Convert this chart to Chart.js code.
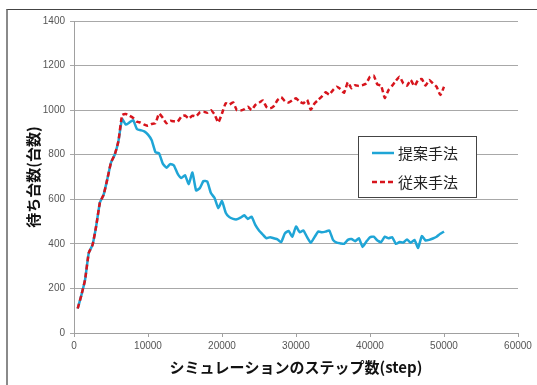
<!DOCTYPE html>
<html>
<head>
<meta charset="utf-8">
<script src="https://cdn.jsdelivr.net/npm/chart.js@4/dist/chart.umd.min.js"></script>
<style>
    body { margin: 0; background: #fff; }
    #wrap { position: relative; width: 537px; height: 385px; overflow: hidden; }
    #frame { position: absolute; left: 6px; top: 9px; width: 600px; height: 400px;
             border-left: 2px solid #8a8a8a; border-top: 1px solid #444; }
    #chart { position: absolute; left: 0; top: 0; }
</style>
</head>
<body>
<div id="wrap">
    <div id="frame"></div>
    <canvas id="chart" width="537" height="385"></canvas>
</div>
<script>
// x positions (simulation step)
const steps = [
    500, 1000, 1500, 2000, 2500, 3000, 3500, 4000, 4500, 5000,
    5500, 6000, 6500, 7000, 7500, 8000, 8500, 9000, 9500, 10000,
    10500, 11000, 11500, 12000, 12500, 13000, 13500, 14000, 14500, 15000,
    15500, 16000, 16500, 17000, 17500, 18000, 18500, 19000, 19500, 20000,
    20500, 21000, 21500, 22000, 22500, 23000, 23500, 24000, 24500, 25000,
    25500, 26000, 26500, 27000, 27500, 28000, 28500, 29000, 29500, 30000,
    30500, 31000, 31500, 32000, 32500, 33000, 33500, 34000, 34500, 35000,
    35500, 36000, 36500, 37000, 37500, 38000, 38500, 39000, 39500, 40000,
    40500, 41000, 41500, 42000, 42500, 43000, 43500, 44000, 44500, 45000,
    45500, 46000, 46500, 47000, 47500, 48000, 48500, 49000, 49500, 50000
];

// 提案手法
const proposed = [
    110, 170, 240, 360, 395, 480, 585, 620, 690, 765,
    800, 860, 960, 935, 945, 955, 915, 910, 905, 890,
    865, 812, 806, 760, 742, 758, 752, 715, 695, 708,
    668, 720, 640, 650, 682, 680, 628, 606, 560, 592,
    540, 520, 512, 510, 518, 528, 512, 522, 485, 460,
    442, 425, 430, 425, 420, 408, 447, 458, 432, 478,
    452, 460, 430, 405, 430, 455, 452, 455, 460, 418,
    405, 402, 400, 418, 422, 412, 425, 386, 410, 430,
    432, 415, 408, 432, 425, 430, 400, 408, 406, 420,
    405, 418, 382, 435, 415, 418, 424, 432, 445, 455
];

// 従来手法
const conventional = [
    110, 170, 240, 360, 395, 480, 585, 620, 690, 765,
    800, 860, 978, 983, 975, 965, 948, 944, 935, 930,
    938, 941, 985, 965, 941, 952, 950, 948, 971, 976,
    963, 975, 972, 990, 993, 988, 1000, 980, 945, 985,
    1031, 1025, 1035, 1000, 998, 1004, 1015, 1001, 1023, 1033,
    1044, 1015, 1008, 1018, 1045, 1058, 1040, 1034, 1045, 1053,
    1038, 1031, 1046, 1002, 1030, 1046, 1062, 1080, 1070, 1090,
    1105, 1095, 1078, 1125, 1098, 1112, 1108, 1112, 1120, 1150,
    1155, 1115, 1110, 1055, 1090, 1110, 1132, 1150, 1120, 1110,
    1135, 1108, 1135, 1140, 1110, 1135, 1120, 1105, 1068, 1105
];

const seriesNames = ['提案手法', '従来手法'];
const xTitle = 'シミュレーションのステップ数(step)';
const yTitle = '待ち台数(台数)';

const blue = '#1fa5d6';
const red = '#d7141c';
const tickFont = { family: 'Liberation Sans', size: 10 };
const titleFont = { family: 'Noto Sans CJK JP', size: 15, weight: 'bold' };

// legend box drawn inside the plot like the original
const boxLegend = {
    id: 'boxLegend',
    afterDraw(chart) {
        const ctx = chart.ctx;
        ctx.save();
        ctx.fillStyle = '#fff';
        ctx.fillRect(358, 136, 118, 61);
        ctx.strokeStyle = '#444';
        ctx.lineWidth = 1;
        ctx.strokeRect(358.5, 136.5, 118, 61);
        const items = [
            { name: seriesNames[0], color: blue, dash: [] },
            { name: seriesNames[1], color: red, dash: [5, 3] },
        ];
        items.forEach((item, i) => {
            const y = 153 + i * 29;
            ctx.strokeStyle = item.color;
            ctx.lineWidth = 2.5;
            ctx.setLineDash(item.dash);
            ctx.beginPath();
            ctx.moveTo(372, y);
            ctx.lineTo(394, y);
            ctx.stroke();
            ctx.setLineDash([]);
            ctx.fillStyle = '#222';
            ctx.font = '15px "Noto Sans CJK JP"';
            ctx.textBaseline = 'middle';
            ctx.fillText(item.name, 398, y);
        });
        ctx.restore();
    }
};

new Chart(document.getElementById('chart'), {
    type: 'line',
    data: {
        labels: steps,
        datasets: [
            {
                label: seriesNames[0],
                data: proposed,
                borderColor: blue,
                borderWidth: 2.5,
                pointRadius: 0,
                tension: 0.15,
                order: 2,
            },
            {
                label: seriesNames[1],
                data: conventional,
                borderColor: red,
                borderWidth: 2.5,
                borderDash: [5, 3],
                pointRadius: 0,
                tension: 0.15,
                order: 1,
            },
        ],
    },
    options: {
        responsive: false,
        animation: false,
        layout: { padding: { left: 8, top: 21, right: 19, bottom: 0 } },
        plugins: {
            legend: { display: false },
            tooltip: { enabled: false },
        },
        scales: {
            x: {
                type: 'linear',
                min: 0,
                max: 60000,
                ticks: { stepSize: 10000, color: '#555', font: tickFont, padding: 3, maxRotation: 0,
                         callback: (v) => String(v) },
                grid: { drawOnChartArea: false, drawTicks: true, tickLength: 4, color: '#a0a0a0' },
                border: { color: '#a0a0a0' },
                title: { display: true, text: xTitle, color: '#111', font: titleFont, padding: { top: 0, bottom: 9 } },
                afterFit(scale) { scale.height = 52; },
            },
            y: {
                min: 0,
                max: 1400,
                ticks: { stepSize: 200, color: '#555', font: tickFont, padding: 5,
                         callback: (v) => String(v) },
                grid: { color: '#a8a8a8', tickLength: 4 },
                border: { color: '#a0a0a0' },
                title: { display: true, text: yTitle, color: '#111', font: titleFont, padding: { top: 16, bottom: 0 } },
                afterFit(scale) { scale.width = 66; },
            },
        },
    },
    plugins: [boxLegend],
});
</script>
</body>
</html>
